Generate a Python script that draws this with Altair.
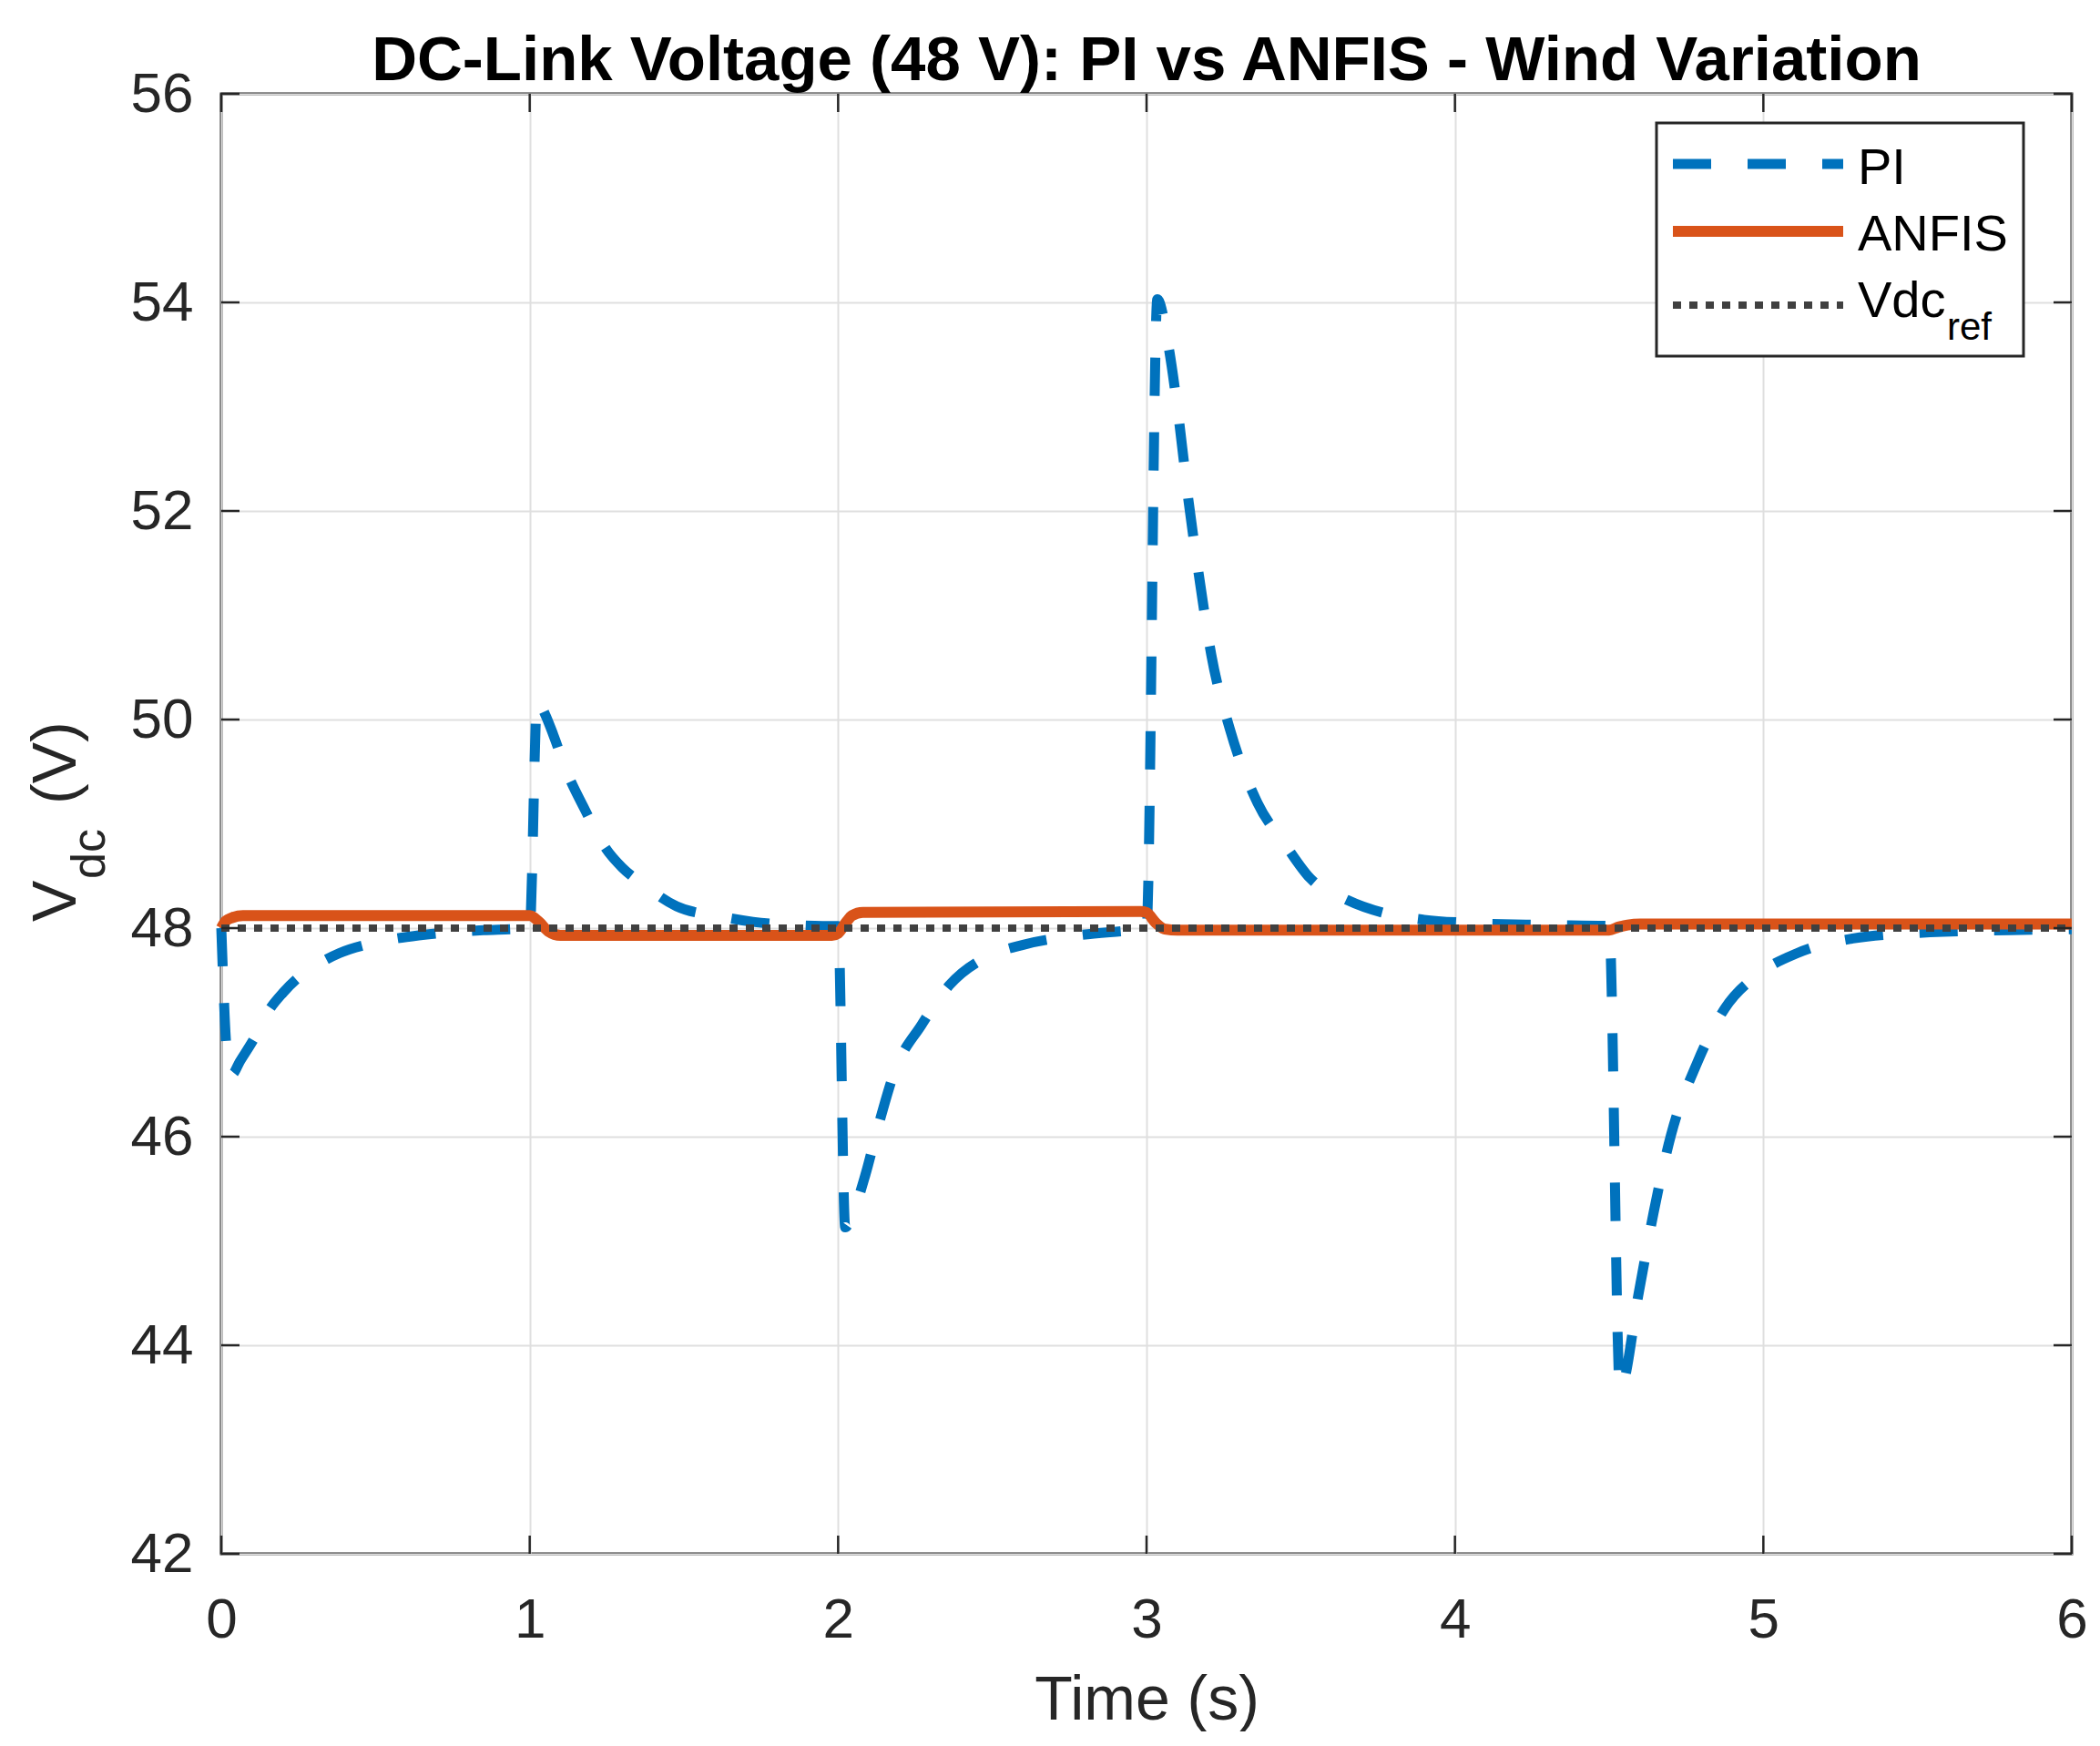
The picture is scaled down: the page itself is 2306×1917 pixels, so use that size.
import altair as alt
import pandas as pd

# ---------------- data ----------------
pi_t = [0.0, 0.02, 0.035, 0.06, 0.112, 0.15, 0.2, 0.248, 0.3, 0.383, 0.496, 0.64, 0.745, 0.85, 0.95, 1.0,
        1.024, 1.05, 1.077, 1.12, 1.18, 1.243, 1.30, 1.363, 1.476, 1.62, 1.724, 1.85, 1.95, 2.0,
        2.023, 2.05, 2.088, 2.13, 2.185, 2.27, 2.36, 2.486, 2.6, 2.75, 2.92, 3.0,
        3.035, 3.07, 3.106, 3.136, 3.17, 3.21, 3.27, 3.36, 3.45, 3.53, 3.65, 3.79, 3.9, 4.04, 4.29, 4.5,
        4.535, 4.597, 4.644, 4.70, 4.787, 4.875, 4.98, 5.11, 5.29, 5.54, 5.8, 6.0]
pi_v = [48.0, 46.75, 46.6, 46.72, 46.97, 47.19, 47.38, 47.52, 47.63, 47.76, 47.86, 47.93, 47.96, 47.98, 47.99, 48.0,
        50.18, 50.05, 49.85, 49.50, 49.13, 48.78, 48.58, 48.43, 48.21, 48.11, 48.06, 48.03, 48.02, 48.02,
        45.13, 45.28, 45.63, 46.10, 46.64, 47.07, 47.45, 47.73, 47.84, 47.92, 47.97, 47.99,
        54.03, 53.6, 52.85, 52.10, 51.38, 50.62, 49.91, 49.20, 48.8, 48.48, 48.27, 48.13, 48.08, 48.05, 48.03, 48.02,
        43.58, 44.52, 45.27, 46.01, 46.72, 47.23, 47.55, 47.76, 47.90, 47.96, 47.98, 47.99]

anfis_t = [0.0, 0.015, 0.035, 0.07, 1.0, 1.03, 1.06, 1.1, 1.98, 2.0, 2.027, 2.045, 2.08, 2.98, 3.0,
           3.03, 3.06, 3.1, 4.5, 4.53, 4.56, 4.6, 6.0]
anfis_v = [48.0, 48.07, 48.10, 48.12, 48.12, 48.06, 47.97, 47.93, 47.93, 47.95, 48.06, 48.12, 48.15, 48.16, 48.15,
           48.05, 47.99, 47.98, 47.98, 48.01, 48.03, 48.04, 48.04]

ref_t = [0.0, 6.0]
ref_v = [48.0, 48.0]

x_ticks = [0, 1, 2, 3, 4, 5, 6]
y_ticks = [42, 44, 46, 48, 50, 52, 54, 56]

title_text = "DC-Link Voltage (48 V): PI vs ANFIS - Wind Variation"
x_title = "Time (s)"
legend_labels = ["PI", "ANFIS", "Vdc"]
legend_sub = "ref"

# ---------------- layout constants ----------------
W, H = 2032, 1603
FONT = "Liberation Sans"
AX = "#262626"
C_PI, C_AN, C_REF = "#0072BD", "#D95319", "#404040"
TL = 20  # inward tick length

df_pi = pd.DataFrame({"t": pi_t, "v": pi_v})
df_an = pd.DataFrame({"t": anfis_t, "v": anfis_v})
df_ref = pd.DataFrame({"t": ref_t, "v": ref_v})
df_xt = pd.DataFrame({"t": x_ticks})
df_yt = pd.DataFrame({"v": y_ticks})
one = pd.DataFrame({"a": [0]})

xs = alt.Scale(domain=[0, 6], nice=False, zero=False)
ys = alt.Scale(domain=[42, 56], nice=False, zero=False)
x_enc = alt.X("t:Q", scale=xs, axis=alt.Axis(values=x_ticks, title=x_title, format="d",
                                             labelPadding=42, titlePadding=24, labelFlush=False))
y_enc = alt.Y("v:Q", scale=ys, axis=alt.Axis(values=y_ticks, title=None, format="d",
                                             labelPadding=31, labelFlush=False))

pi = alt.Chart(df_pi).mark_line(color=C_PI, strokeWidth=11, strokeDash=[42, 40],
                                interpolate="monotone", strokeCap="butt").encode(x=x_enc, y=y_enc)
an = alt.Chart(df_an).mark_line(color=C_AN, strokeWidth=12,
                                interpolate="monotone").encode(x=x_enc, y=y_enc)
ref = alt.Chart(df_ref).mark_line(color=C_REF, strokeWidth=8, strokeDash=[9, 9],
                                  strokeCap="butt").encode(x=x_enc, y=y_enc)

# inward ticks on all four sides
xt_b = alt.Chart(df_xt).mark_rule(color=AX, strokeWidth=2.5).encode(
    x=x_enc, y=alt.value(H), y2=alt.value(H - TL))
xt_t = alt.Chart(df_xt).mark_rule(color=AX, strokeWidth=2.5).encode(
    x=x_enc, y=alt.value(0), y2=alt.value(TL))
yt_l = alt.Chart(df_yt).mark_rule(color=AX, strokeWidth=2.5).encode(
    y=y_enc, x=alt.value(0), x2=alt.value(TL))
yt_r = alt.Chart(df_yt).mark_rule(color=AX, strokeWidth=2.5).encode(
    y=y_enc, x=alt.value(W), x2=alt.value(W - TL))

# y-axis title with subscript
ylab_v = alt.Chart(one).mark_text(text="V", font=FONT, fontSize=68, color=AX, angle=270,
                                  align="left", baseline="alphabetic").encode(
    x=alt.value(-160), y=alt.value(909))
ylab_dc = alt.Chart(one).mark_text(text="dc", font=FONT, fontSize=52, color=AX, angle=270,
                                   align="left", baseline="alphabetic").encode(
    x=alt.value(-128), y=alt.value(862))
ylab_u = alt.Chart(one).mark_text(text="(V)", font=FONT, fontSize=68, color=AX, angle=270,
                                  align="left", baseline="alphabetic").encode(
    x=alt.value(-160), y=alt.value(780))

# legend
lg_box = alt.Chart(one).mark_rect(fill="white", stroke=AX, strokeWidth=3).encode(
    x=alt.value(1576), x2=alt.value(1979), y=alt.value(32), y2=alt.value(288))
lg_pi = alt.Chart(one).mark_rule(color=C_PI, strokeWidth=11, strokeDash=[42, 40], strokeCap="butt").encode(
    x=alt.value(1594), x2=alt.value(1781), y=alt.value(77))
lg_an = alt.Chart(one).mark_rule(color=C_AN, strokeWidth=12).encode(
    x=alt.value(1594), x2=alt.value(1781), y=alt.value(151))
lg_ref = alt.Chart(one).mark_rule(color=C_REF, strokeWidth=8, strokeDash=[9, 9], strokeCap="butt").encode(
    x=alt.value(1594), x2=alt.value(1781), y=alt.value(232))
lg_t1 = alt.Chart(one).mark_text(text=legend_labels[0], font=FONT, fontSize=56, color="black",
                                 align="left", baseline="alphabetic").encode(x=alt.value(1797), y=alt.value(99))
lg_t2 = alt.Chart(one).mark_text(text=legend_labels[1], font=FONT, fontSize=56, color="black",
                                 align="left", baseline="alphabetic").encode(x=alt.value(1797), y=alt.value(172))
lg_t3 = alt.Chart(one).mark_text(text=legend_labels[2], font=FONT, fontSize=56, color="black",
                                 align="left", baseline="alphabetic").encode(x=alt.value(1797), y=alt.value(245))
lg_t4 = alt.Chart(one).mark_text(text=legend_sub, font=FONT, fontSize=42, color="black",
                                 align="left", baseline="alphabetic").encode(x=alt.value(1895), y=alt.value(270))

chart = alt.layer(
    pi, an, ref, xt_b, xt_t, yt_l, yt_r, ylab_v, ylab_dc, ylab_u,
    lg_box, lg_pi, lg_an, lg_ref, lg_t1, lg_t2, lg_t3, lg_t4
).properties(
    width=W, height=H,
    background="white",
    title=alt.TitleParams(title_text, font=FONT, fontSize=69, fontWeight="bold", color="black",
                          anchor="middle", offset=-30),
    autosize=alt.AutoSizeParams(type="none"),
    padding={"left": 235, "top": 95, "right": 23, "bottom": 195},
).configure_view(
    stroke=AX, strokeWidth=3
).configure_axis(
    labelFont=FONT, labelFontSize=62, labelColor=AX,
    titleFont=FONT, titleFontSize=68, titleColor=AX, titleFontWeight="normal",
    grid=True, gridColor="#dfdfdf", gridWidth=2,
    domain=False, ticks=False, tickSize=0,
)

chart.save("out.html", embed_options={"renderer": "svg", "actions": False})
